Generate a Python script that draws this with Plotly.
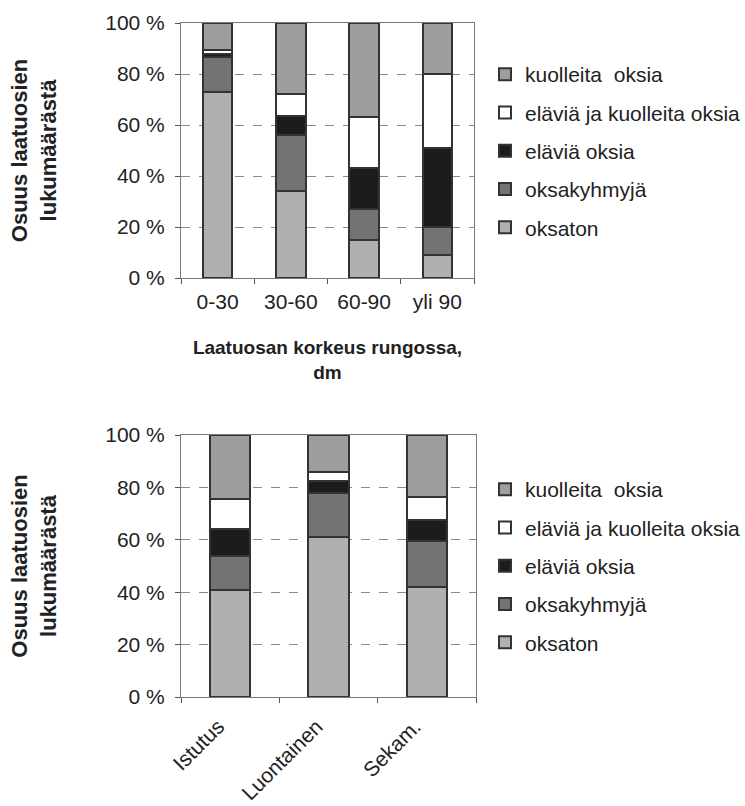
import plotly.graph_objects as go

# Height classes of the stem section (upper chart)
height_classes = ["0-30", "30-60", "60-90", "yli 90"]
h_oksaton = [73, 34, 15, 9]
h_oksakyhmyja = [13.5, 22, 12, 11]
h_elavia = [1.5, 7.5, 16, 31]
h_elavia_kuolleita = [1.5, 8.5, 20, 29]
h_kuolleita = [10.5, 28, 37, 20]

# Stand origin (lower chart)
origins = ["Istutus", "Luontainen", "Sekam."]
o_oksaton = [41, 61, 42]
o_oksakyhmyja = [13, 17, 17.5]
o_elavia = [10, 4.5, 8]
o_elavia_kuolleita = [11.5, 3.5, 9]
o_kuolleita = [24.5, 14, 23.5]

# Percentage axis ticks
pct_ticks = [0, 20, 40, 60, 80, 100]
pct_labels = ["0 %", "20 %", "40 %", "60 %", "80 %", "100 %"]

series_names = ["oksaton", "oksakyhmyjä", "eläviä oksia",
                "eläviä ja kuolleita oksia", "kuolleita\u00a0 oksia"]
series_colors = ["#b0b0b0", "#737373", "#1c1c1c", "#ffffff", "#9e9e9e"]

FONT = "Liberation Sans, Arial, sans-serif"
TXT = "#222222"
W, H = 745, 806

fig = go.Figure()

top_series = [h_oksaton, h_oksakyhmyja, h_elavia, h_elavia_kuolleita, h_kuolleita]
bot_series = [o_oksaton, o_oksakyhmyja, o_elavia, o_elavia_kuolleita, o_kuolleita]
n = len(series_names)

for i, (name, color, vals) in enumerate(zip(series_names, series_colors, top_series)):
    fig.add_trace(go.Bar(
        x=height_classes, y=vals, name=name, xaxis="x", yaxis="y",
        width=0.4, marker=dict(color=color, line=dict(color="#333333", width=2)),
        legend="legend", legendgroup=f"t{i}", legendrank=n - i,
    ))

for i, (name, color, vals) in enumerate(zip(series_names, series_colors, bot_series)):
    fig.add_trace(go.Bar(
        x=origins, y=vals, name=name, xaxis="x2", yaxis="y2",
        width=0.41, marker=dict(color=color, line=dict(color="#333333", width=2)),
        legend="legend2", legendgroup=f"b{i}", legendrank=n - i,
    ))

def px_x(p):
    return p / W

def px_y(p):
    return 1 - p / H

yaxis_common = dict(
    range=[0, 100], tickmode="array", tickvals=pct_ticks, ticktext=pct_labels,
    showgrid=True, gridcolor="#8a8a8a", griddash="dash", gridwidth=1,
    showline=True, linecolor="#7a7a7a", linewidth=1, mirror=True,
    ticks="outside", ticklen=5, tickcolor="#555555", ticklabelstandoff=6,
    tickfont=dict(family=FONT, size=21, color=TXT),
    zeroline=False, fixedrange=True, automargin=False,
)
xaxis_common = dict(
    showline=True, linecolor="#7a7a7a", linewidth=1, mirror=True,
    ticks="outside", ticklen=5, tickcolor="#555555", tickson="boundaries",
    tickfont=dict(family=FONT, size=21, color=TXT), fixedrange=True,
    automargin=False,
)

ytitle = "<b>Osuus laatuosien<br>lukumäärästä</b>"
ytitle_font = dict(family=FONT, size=22, color=TXT)
xtitle_font = dict(family=FONT, size=19, color=TXT)

legend_common = dict(
    font=dict(family=FONT, size=21, color=TXT),
    traceorder="grouped", tracegroupgap=8,
    bgcolor="rgba(0,0,0,0)", xanchor="left", yanchor="top",
)

fig.update_layout(
    width=W, height=H, margin=dict(l=0, r=0, t=0, b=0, autoexpand=False),
    paper_bgcolor="white", plot_bgcolor="white",
    barmode="stack",
    xaxis=dict(domain=[px_x(181), px_x(474)], anchor="y", ticklabelstandoff=5,
               title=dict(text="<b>Laatuosan korkeus rungossa,<br>dm</b>",
                          font=xtitle_font, standoff=28),
               **xaxis_common),
    yaxis=dict(domain=[px_y(278), px_y(23)], anchor="x",
               title=dict(text=ytitle, font=ytitle_font, standoff=42),
               **yaxis_common),
    xaxis2=dict(domain=[px_x(181), px_x(476)], anchor="y2", tickangle=-45,
                ticklabelstandoff=8, ticklabelshift=-12,
                **xaxis_common),
    yaxis2=dict(domain=[px_y(697), px_y(435)], anchor="x2",
                title=dict(text=ytitle, font=ytitle_font, standoff=42),
                **yaxis_common),
    legend=dict(x=px_x(485), y=px_y(54), **legend_common),
    legend2=dict(x=px_x(485), y=px_y(469), **legend_common),
    showlegend=True,
)

fig.write_html("out.html")
